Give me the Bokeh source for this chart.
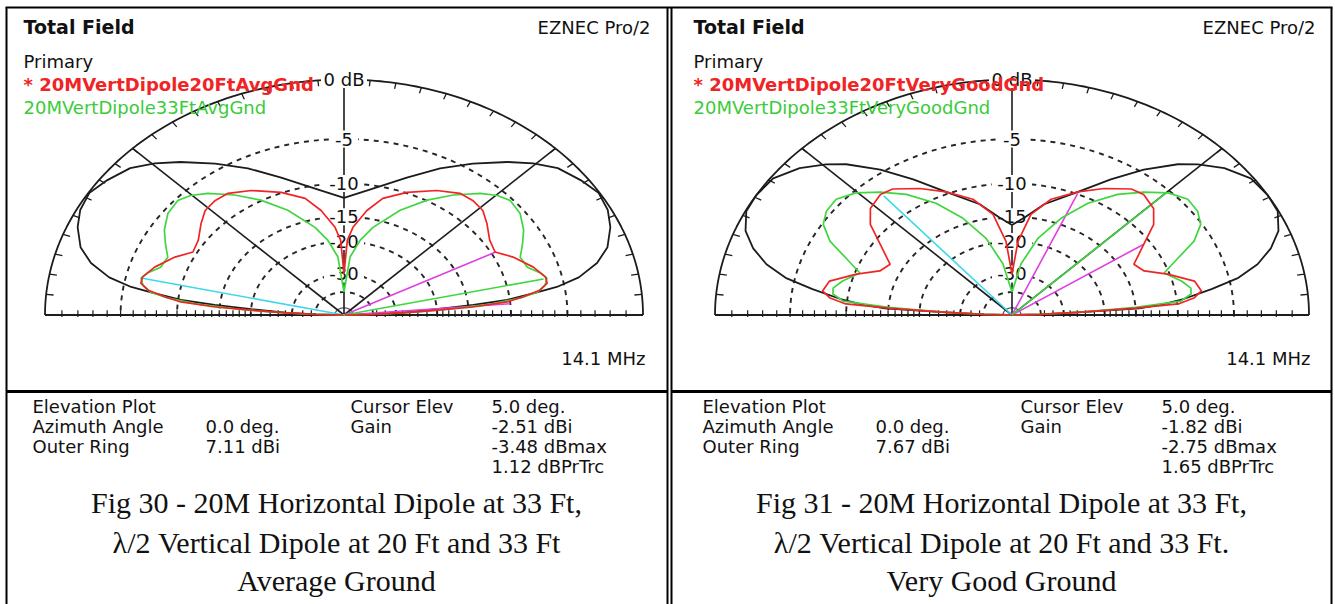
import math
from bokeh.plotting import figure
from bokeh.models import Range1d, Label
from bokeh.core.properties import value
from bokeh.embed import file_html
from bokeh.resources import INLINE

# ---------------- data (EZNEC elevation patterns, ARRL log scale) ----------------
# dB rings and axis labels
RING_DB = [-5, -10, -15, -20, -30, -40]
AXIS_LABEL_DB = [0, -5, -10, -15, -20, -30]
AXIS_LABEL_TEXT = ["0 dB", "-5", "-10", "-15", "-20", "-30"]
BASE_TICK_DB = [-1, -2, -3, -4, -5, -6, -7, -8, -9, -10, -11, -12, -13, -14, -15,
                -16, -17, -18, -19, -20, -22, -24, -26, -28, -30, -34, -38]
ARC_TICK_DEG = list(range(5, 180, 5))

# Fig 30 - Average ground (elevation deg 0..90, dB rel. outer ring; mirrored to 180)
AVG_HORIZ_ELEV = [0, 1.5, 3, 4.5, 5.6, 6.7, 8.4, 9.5, 11.5, 14.6, 18.1, 22.7, 26.8,
                  31.4, 35.9, 41.1, 45.5, 49.9, 56.2, 62.7, 70.2, 79.8, 90]
AVG_HORIZ_DB = [-99, -40, -28, -20, -14.3, -10.3, -7.5, -5.6, -3.8, -2.3, -1.3, -0.6,
                -0.2, -0.05, -0.4, -0.9, -1.75, -2.8, -4.4, -6.1, -8.2, -10.4, -12.0]
AVG_RED_ELEV = [0, 1.5, 3, 3.8, 4.5, 5.8, 7.3, 9.2, 11.3, 13.5, 17.8, 23.5, 27.9,
                33.1, 39.2, 43.7, 48.5, 53.1, 59.6, 68, 75.3, 80.2, 85.4, 88, 90]
AVG_RED_DB = [-99, -40, -26, -19.4, -14.4, -10.3, -8.7, -7.0, -6.3, -6.3, -7.0, -8.3,
              -9.6, -9.3, -8.3, -7.6, -7.4, -7.5, -8.4, -9.9, -11.5, -13.7, -16.9, -19.7, -30]
AVG_GREEN_ELEV = [0, 1.5, 3, 4, 5.5, 7, 8.5, 10.7, 13, 15.2, 18.3, 22.6, 26.8, 31,
                  36.2, 41.2, 44.7, 48.6, 54.3, 60.3, 67.1, 75.4, 80.4, 85.3, 90]
AVG_GREEN_DB = [-99, -36, -24, -18, -12, -8.9, -7.3, -6.5, -6.2, -6.6, -7.5, -7.7, -6.9,
                -6.1, -5.4, -5.2, -5.6, -6.4, -8.0, -9.9, -12.5, -16.4, -19.5, -24, -40]
AVG_CYAN = (167.0, -6.2)
AVG_MAGENTA = [(27.8, -9.5), (4.9, -10.0)]
AVG_GREEN_LINE = (12.9, -6.5)

# Fig 31 - Very good ground
VG_HORIZ_ELEV = [0, 1.5, 3, 3.8, 5.2, 6.7, 9.3, 11.7, 14.6, 18, 21.7, 26.2, 30.5,
                 35.8, 41.1, 45.6, 48.9, 54.3, 60, 67, 77, 84, 90]
VG_HORIZ_DB = [-99, -40, -26, -14.5, -11.5, -9.3, -6.6, -4.3, -2.7, -1.5, -0.6, -0.05,
               0, -0.15, -0.9, -1.9, -2.8, -4.7, -7.0, -9.7, -12.5, -15.0, -16.5]
VG_RED_ELEV = [0, 1.5, 3, 4, 4.8, 6.7, 9.1, 13.2, 18.3, 22.8, 27.7, 34.1, 38.9, 43.5,
               49.1, 53.1, 60, 67, 75, 81.5, 86.3, 90]
VG_RED_DB = [-99, -40, -24, -15, -9.9, -8.3, -7.5, -7.9, -10.2, -12.5, -13.2, -10.7,
             -8.4, -7.2, -6.7, -6.9, -8.2, -9.7, -11.6, -14.4, -19.9, -30]
VG_GREEN_ELEV = [0, 1.5, 3, 4.5, 5.9, 8.4, 10.7, 14.2, 19.2, 23.4, 27.1, 31.2, 35.2,
                 39.7, 44.6, 49.6, 55.2, 61.7, 68.1, 74.9, 82, 90]
VG_GREEN_DB = [-99, -40, -25, -15, -9.6, -8.5, -8.4, -9.1, -10.5, -8.5, -6.4, -5.1,
               -4.6, -4.5, -5.2, -6.5, -8.1, -10.6, -14.0, -18.6, -26, -40]
VG_CYAN = (130.5, -7.0)
VG_MAGENTA = [(66.8, -9.9), (34.1, -10.7)]
VG_GREEN_LINE = (45.0, -5.2)

# texts
TITLE = "Total Field"
PROGRAM = "EZNEC Pro/2"
PRIMARY = "Primary"
FREQ = "14.1 MHz"
LEFT_TRACES = ["* 20MVertDipole20FtAvgGnd", "20MVertDipole33FtAvgGnd"]
RIGHT_TRACES = ["* 20MVertDipole20FtVeryGoodGnd", "20MVertDipole33FtVeryGoodGnd"]
INFO_KEYS_1 = ["Elevation Plot", "Azimuth Angle", "Outer Ring"]
INFO_KEYS_2 = ["Cursor Elev", "Gain"]
LEFT_INFO_VALS_1 = ["", "0.0 deg.", "7.11 dBi"]
LEFT_INFO_VALS_2 = ["5.0 deg.", "-2.51 dBi", "-3.48 dBmax", "1.12 dBPrTrc"]
RIGHT_INFO_VALS_1 = ["", "0.0 deg.", "7.67 dBi"]
RIGHT_INFO_VALS_2 = ["5.0 deg.", "-1.82 dBi", "-2.75 dBmax", "1.65 dBPrTrc"]
LEFT_CAPTION = ["Fig 30 - 20M Horizontal Dipole at 33 Ft,",
                "\u03bb/2 Vertical Dipole at 20 Ft and 33 Ft",
                "Average Ground"]
RIGHT_CAPTION = ["Fig 31 - 20M Horizontal Dipole at 33 Ft,",
                 "\u03bb/2 Vertical Dipole at 20 Ft and 33 Ft.",
                 "Very Good Ground"]

# ---------------- helpers ----------------
W, H = 1335, 604
CY, RY = 314.5, 235.5
L_CX, L_RX = 343.5, 299.0
R_CX, R_RX = 1011.5, 297.0

RED = "#f02424"
GREEN = "#3fd63f"
BLACK = "#1c1c1c"
CYAN = "#3fd8ea"
MAGENTA = "#de3fe0"
SANS = "DejaVu Sans"
SERIF = "Liberation Serif"


def r_of(db):
    return 0.89 ** (-db / 2.0)


def to_xy(elev, db):
    xs = [r_of(d) * math.cos(math.radians(a)) for a, d in zip(elev, db)]
    ys = [r_of(d) * math.sin(math.radians(a)) for a, d in zip(elev, db)]
    return xs, ys


def mirrored(elev, db):
    e = list(elev) + [180 - a for a in reversed(elev[:-1])]
    d = list(db) + list(reversed(db[:-1]))
    return e, d


def X(px):  # global pixel -> default (left panel) data x
    return (px - L_CX) / L_RX


def Y(py):
    return (CY - py) / RY


p = figure(width=W, height=H, output_backend="svg", toolbar_location=None,
           x_range=Range1d(X(0), X(W)), y_range=Range1d(Y(H), Y(0)),
           x_axis_type=None, y_axis_type=None, min_border=0,
           outline_line_color=None, background_fill_color="white",
           border_fill_color="white")
p.extra_x_ranges = {"right": Range1d((0 - R_CX) / R_RX, (W - R_CX) / R_RX)}

# frames
p.segment(x0=[X(5)], y0=[Y(7)], x1=[X(1332)], y1=[Y(7)], line_color="black", line_width=2)
for fx in [6, 667, 671, 1331]:
    p.segment(x0=[X(fx)], y0=[Y(7)], x1=[X(fx)], y1=[Y(606)], line_color="black", line_width=2)
p.segment(x0=[X(6), X(671)], y0=[Y(391)] * 2, x1=[X(667), X(1331)], y1=[Y(391)] * 2,
          line_color="black", line_width=3)


def draw_panel(rn, horiz, red, green, cyan, magenta, gline):
    kw = dict(x_range_name=rn)
    arc = [i * 1.0 for i in range(0, 181)]
    # dashed rings
    for db in RING_DB:
        xs, ys = to_xy(arc, [db] * len(arc))
        p.line(xs, ys, line_color="#262626", line_width=1.9, line_dash="5 5", **kw)
    xs, ys = to_xy(arc, [-60] * len(arc))
    p.line(xs, ys, line_color="#555555", line_width=1.2, **kw)
    # outer ring and baseline
    xs, ys = to_xy(arc, [0] * len(arc))
    p.line(xs, ys, line_color=BLACK, line_width=1.8, **kw)
    p.segment(x0=[-1], y0=[0], x1=[1], y1=[0], line_color=BLACK, line_width=1.8, **kw)
    # 45 deg lines
    c = math.cos(math.radians(45))
    p.segment(x0=[0, 0], y0=[0, 0], x1=[c, -c], y1=[c, c], line_color=BLACK, line_width=1.6, **kw)
    # arc ticks
    p.segment(x0=[0.975 * math.cos(math.radians(a)) for a in ARC_TICK_DEG],
              y0=[0.975 * math.sin(math.radians(a)) for a in ARC_TICK_DEG],
              x1=[math.cos(math.radians(a)) for a in ARC_TICK_DEG],
              y1=[math.sin(math.radians(a)) for a in ARC_TICK_DEG],
              line_color=BLACK, line_width=1.3, **kw)
    # baseline ticks
    tx = [s * r_of(d) for d in BASE_TICK_DB for s in (1, -1)]
    p.segment(x0=tx, y0=[-0.008] * len(tx), x1=tx, y1=[0.02] * len(tx),
              line_color=BLACK, line_width=1.2, **kw)
    # vertical axis
    p.segment(x0=[0], y0=[0], x1=[0], y1=[1], line_color=BLACK, line_width=1.6, **kw)
    ly = [r_of(d) for d in AXIS_LABEL_DB]
    widths = [46 if t == "0 dB" else 12 * len(t) + 4 for t in AXIS_LABEL_TEXT]
    p.rect(x=[0] * len(ly), y=ly, width=widths, height=[17] * len(ly),
           width_units="screen", height_units="screen",
           fill_color="white", line_color=None, **kw)
    p.text(x=[0] * len(ly), y=ly, text=AXIS_LABEL_TEXT, text_font=value(SANS),
           text_font_size="18px", text_align="center", text_baseline="middle",
           text_color="#111111", **kw)
    # horizontal dipole pattern
    e, d = mirrored(*horiz)
    xs, ys = to_xy(e, d)
    p.line(xs, ys, line_color=BLACK, line_width=1.8, **kw)
    # marker lines
    for (a, db), col in [(cyan, CYAN)] + [(m, MAGENTA) for m in magenta] + [(gline, GREEN)]:
        xs, ys = to_xy([a], [db])
        p.segment(x0=[0], y0=[0], x1=xs, y1=ys, line_color=col, line_width=1.6, **kw)
    # vertical dipole traces
    e, d = mirrored(*green)
    xs, ys = to_xy(e, d)
    p.line(xs, ys, line_color=GREEN, line_width=1.7, **kw)
    e, d = mirrored(*red)
    xs, ys = to_xy(e, d)
    p.line(xs, ys, line_color=RED, line_width=1.7, **kw)


draw_panel("default", (AVG_HORIZ_ELEV, AVG_HORIZ_DB), (AVG_RED_ELEV, AVG_RED_DB),
           (AVG_GREEN_ELEV, AVG_GREEN_DB), AVG_CYAN, AVG_MAGENTA, AVG_GREEN_LINE)
draw_panel("right", (VG_HORIZ_ELEV, VG_HORIZ_DB), (VG_RED_ELEV, VG_RED_DB),
           (VG_GREEN_ELEV, VG_GREEN_DB), VG_CYAN, VG_MAGENTA, VG_GREEN_LINE)


def lab(px, py, text, size="18px", style="normal", color="#111111", align="left", font=SANS):
    p.add_layout(Label(x=X(px), y=Y(py), text=text, text_font=font, text_font_size=size,
                       text_font_style=style, text_color=color, text_align=align,
                       text_baseline="middle"))


for off, rx_end, traces, v1, v2, cap, ccx in [
        (0, 650, LEFT_TRACES, LEFT_INFO_VALS_1, LEFT_INFO_VALS_2, LEFT_CAPTION, 336),
        (670, 1315, RIGHT_TRACES, RIGHT_INFO_VALS_1, RIGHT_INFO_VALS_2, RIGHT_CAPTION, 1001)]:
    lab(23 + off, 26, TITLE, size="19px", style="bold")
    lab(rx_end, 27, PROGRAM, align="right")
    lab(23 + off, 61, PRIMARY)
    lab(23 + off, 84, traces[0], style="bold", color=RED)
    lab(23 + off, 107, traces[1], color="#3acb3a")
    lab(rx_end - 5, 358, FREQ, align="right")
    rows = [406, 426, 446, 466]
    for i, k in enumerate(INFO_KEYS_1):
        lab(32 + off, rows[i], k)
        if v1[i]:
            lab(205 + off, rows[i], v1[i])
    for i, k in enumerate(INFO_KEYS_2):
        lab(350 + off, rows[i], k)
    for i, v in enumerate(v2):
        lab(491 + off, rows[i], v)
    for i, t in enumerate(cap):
        lab(ccx, [502, 542, 580][i], t, size="30px", align="center", font=SERIF)

open("out.html", "w").write(file_html(p, INLINE))
